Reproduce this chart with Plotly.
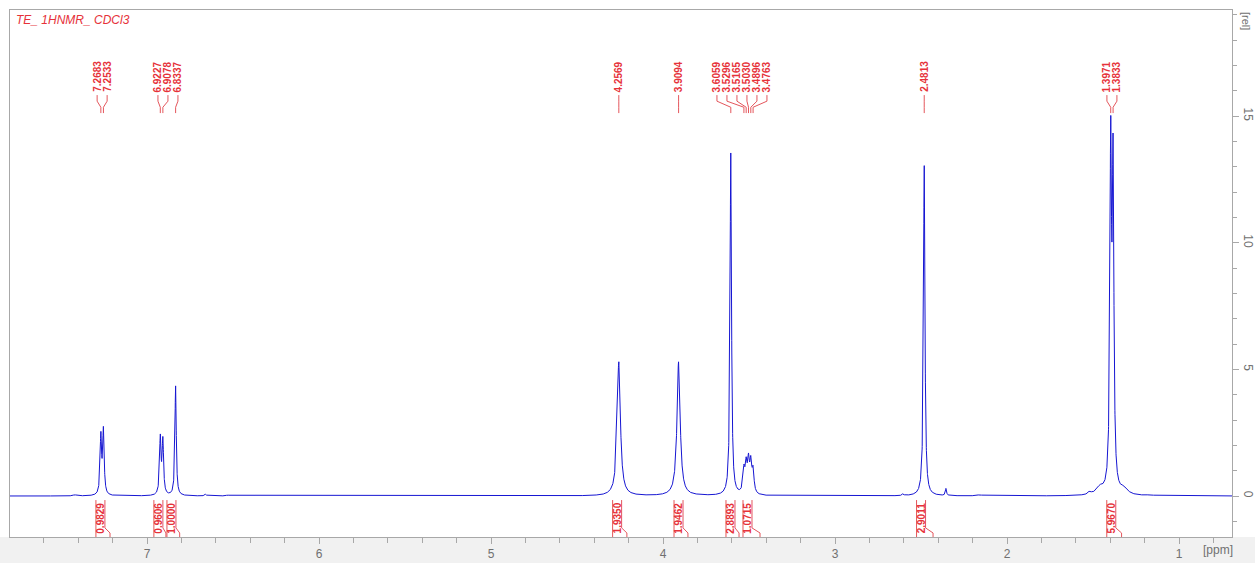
import numpy as np
import plotly.graph_objects as go

# ---- labelled peaks (ppm) and their apparent heights (rel) ----
peak_shifts = [7.2683, 7.2533, 6.9227, 6.9078, 6.8337, 4.2569, 3.9094,
               3.6059, 3.5296, 3.5165, 3.5030, 3.4896, 3.4763, 2.4813,
               1.3971, 1.3833]
peak_heights = [2.55, 2.75, 2.45, 2.35, 4.35, 5.30, 5.30,
                13.55, 1.25, 1.55, 1.70, 1.60, 1.20, 13.05,
                15.00, 14.30]
peak_fwhm = [0.010, 0.010, 0.010, 0.010, 0.009, 0.022, 0.022,
             0.010, 0.013, 0.013, 0.013, 0.013, 0.013, 0.010,
             0.011, 0.011]

# ---- small unlabelled signals ----
minor_shifts = [7.42, 6.66, 6.53, 4.36, 3.78, 2.605, 2.355, 2.16, 1.52, 1.46, 1.32, 1.17]
minor_heights = [0.05, 0.08, 0.04, 0.06, 0.08, 0.10, 0.30, 0.05, 0.20, 0.45, 0.40, 0.06]
minor_fwhm = [0.02, 0.01, 0.02, 0.03, 0.03, 0.01, 0.008, 0.03, 0.02, 0.05, 0.05, 0.03]

# ---- integrals ----
integral_values = [0.9829, 0.9606, 1.0000, 1.9350, 1.9462, 2.8893, 1.0715, 2.9011, 5.9670]
integral_start = [7.297, 6.960, 6.884, 4.293, 3.936, 3.634, 3.535, 2.526, 1.420]
integral_end = [7.215, 6.890, 6.810, 4.210, 3.855, 3.558, 3.436, 2.430, 1.334]

title_text = "TE_ 1HNMR_ CDCl3"

# ---- view window ----
X_RANGE = [7.7965, 0.692]
Y_RANGE = [-1.619, 19.19]
PX = 1.0 / 172.0          # ppm per screen pixel
RED = "#e6323a"
RED_LINE = "#e4565c"

# ---- spectrum from the peak table (Lorentzian lines) ----
centers = np.array(peak_shifts + minor_shifts)
targets = np.array(peak_heights + minor_heights)
hw = np.array(peak_fwhm + minor_fwhm) / 2.0


def lorentz(x, c, h):
    return 1.0 / (1.0 + ((x - c) / h) ** 2)


# amplitudes chosen so the summed curve reaches each listed height at its shift
A = lorentz(centers[:, None], centers[None, :], hw[None, :])
amps = np.linalg.solve(A, targets)

ppm = np.arange(0.69, 7.80, 0.0004)
intensity = (amps[None, :] * lorentz(ppm[:, None], centers[None, :], hw[None, :])).sum(axis=1)

fig = go.Figure()
fig.add_trace(go.Scatter(x=ppm, y=intensity, mode="lines",
                         line=dict(color="#1616d2", width=1),
                         hoverinfo="skip", showlegend=False))

shapes = []
annotations = []

# ---- peak labels, spread apart where neighbours crowd ----
def spread(positions, gap):
    clusters = [[p] for p in positions]

    def place(c):
        mid = (max(c) + min(c)) / 2.0
        n = len(c)
        return [mid + gap * ((n - 1) / 2.0 - k) for k in range(n)]

    changed = True
    while changed:
        changed = False
        for i in range(len(clusters) - 1):
            a = place(clusters[i])
            b = place(clusters[i + 1])
            if a[-1] - b[0] < gap - 1e-9:
                clusters[i] = clusters[i] + clusters[i + 1]
                del clusters[i + 1]
                changed = True
                break
    out = []
    for c in clusters:
        out += place(c)
    return out


order = sorted(range(len(peak_shifts)), key=lambda i: -peak_shifts[i])
sorted_shifts = [peak_shifts[i] for i in order]
label_x = spread(sorted_shifts, 10 * PX)

Y_TXT, Y_A, Y_B, Y_C = 15.87, 15.59, 15.35, 15.12
for s, lx in zip(sorted_shifts, label_x):
    annotations.append(dict(x=lx, y=Y_TXT, xref="x", yref="y", text=f"{s:.4f}",
                            textangle=-90, showarrow=False, xanchor="center",
                            yanchor="bottom",
                            font=dict(family="Liberation Sans", size=10, color=RED,
                                      weight="bold")))
    shapes.append(dict(type="path", xref="x", yref="y",
                       path=f"M {lx},{Y_TXT - 0.04} L {lx},{Y_A} L {s},{Y_B} L {s},{Y_C}",
                       line=dict(color=RED_LINE, width=1)))

# ---- integral brackets ----
BOX_W = 9 * PX
Y_TOP, Y_KNEE, Y_FOOT, Y_BOT = -0.16, -1.26, -1.46, Y_RANGE[0]
for v, x0, x1 in zip(integral_values, integral_start, integral_end):
    xr = x0 - BOX_W
    shapes.append(dict(type="path", xref="x", yref="y",
                       path=f"M {x0},{Y_TOP} L {x0},{Y_BOT}",
                       line=dict(color=RED_LINE, width=1)))
    xf = min(xr, x1)
    shapes.append(dict(type="path", xref="x", yref="y",
                       path=f"M {xr},{Y_TOP} L {xr},{Y_KNEE} L {xf},{Y_FOOT} L {xf},{Y_BOT}",
                       line=dict(color=RED_LINE, width=1)))
    annotations.append(dict(x=x0 - BOX_W / 2, y=-0.88, xref="x", yref="y",
                            text=f"{v:.4f}", textangle=-90, showarrow=False,
                            xanchor="center", yanchor="middle",
                            font=dict(family="Liberation Sans", size=10, color=RED,
                                      weight="bold")))

# ---- grey strip under the frame ----
shapes.append(dict(type="rect", xref="paper", yref="paper",
                   x0=-0.02, x1=1.03, y0=-0.06, y1=0.0,
                   fillcolor="#f1f1f1", line=dict(width=0), layer="below"))

# ---- caption and unit labels ----
annotations.append(dict(x=0.0033, y=0.981, xref="paper", yref="paper",
                        text=f"<i>{title_text}</i>", showarrow=False,
                        xanchor="left", yanchor="middle",
                        font=dict(family="Liberation Sans", size=12, color=RED)))
annotations.append(dict(x=0.9885, y=-0.025, xref="paper", yref="paper",
                        text="[ppm]", showarrow=False, xanchor="center",
                        yanchor="middle",
                        font=dict(family="Liberation Sans", size=12, color="#707070")))
annotations.append(dict(x=1.0115, y=0.979, xref="paper", yref="paper",
                        text="[rel]", textangle=90, showarrow=False,
                        xanchor="center", yanchor="middle",
                        font=dict(family="Liberation Sans", size=11, color="#707070")))

axis_font = dict(family="Liberation Sans", size=12, color="#707070")
fig.update_layout(
    width=1255, height=563,
    margin=dict(l=10, r=23, t=10, b=26, autoexpand=False),
    paper_bgcolor="white", plot_bgcolor="white",
    showlegend=False,
    shapes=shapes, annotations=annotations,
    xaxis=dict(range=X_RANGE, showgrid=False, zeroline=False, automargin=False,
               showline=True, linecolor="#a8a8a8", linewidth=1, mirror=True,
               ticks="outside", ticklen=6, tickcolor="#a8a8a8",
               tickfont=axis_font, tickvals=[7, 6, 5, 4, 3, 2, 1],
               minor=dict(dtick=0.2, tick0=0, ticks="outside", ticklen=5,
                          tickcolor="#a8a8a8", showgrid=False)),
    yaxis=dict(range=Y_RANGE, side="right", showgrid=False, zeroline=False,
               automargin=False,
               showline=True, linecolor="#a8a8a8", linewidth=1, mirror=True,
               ticks="outside", ticklen=6, tickcolor="#a8a8a8",
               tickvals=[0, 5, 10, 15], tickangle=90, tickfont=axis_font,
               minor=dict(dtick=1, tick0=0, ticks="outside", ticklen=4,
                          tickcolor="#a8a8a8", showgrid=False)),
)

fig.write_html("out.html")
